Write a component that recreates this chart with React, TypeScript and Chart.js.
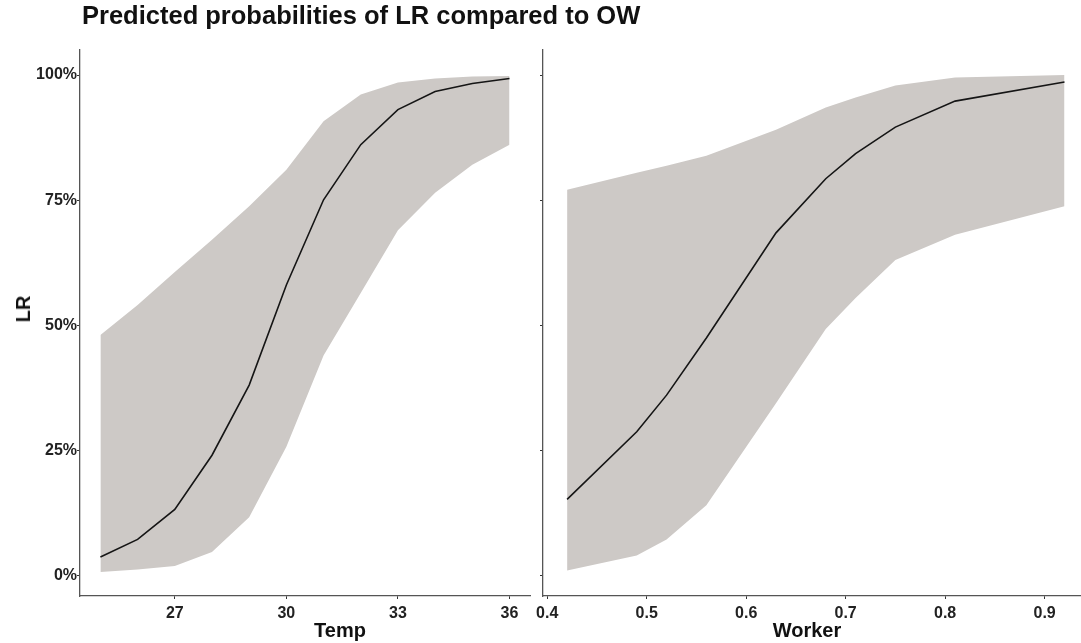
import React, { useEffect, useRef } from "react";
import { Chart, registerables } from "chart.js";

Chart.register(...registerables);

const TITLE = "Predicted probabilities of LR compared to OW";
const Y_TITLE = "LR";
const TEMP_TITLE = "Temp";
const WORKER_TITLE = "Worker";

// Left panel: Temp
const tempX = [25, 26, 27, 28, 29, 30, 31, 32, 33, 34, 35, 36];
const tempFit = [3.8, 7.3, 13.3, 24.1, 38.1, 58.1, 75.1, 86.1, 93.1, 96.7, 98.3, 99.3];
const tempUpper = [48.1, 54.1, 60.7, 67.1, 73.8, 81.1, 90.8, 96.1, 98.5, 99.3, 99.7, 99.8];
const tempLower = [0.8, 1.3, 2.0, 4.8, 11.7, 25.8, 44.0, 56.5, 69.0, 76.5, 82.1, 86.1];
const tempTicks = [27, 30, 33, 36];

// Right panel: Worker
const workerX = [0.42, 0.49, 0.52, 0.56, 0.63, 0.68, 0.71, 0.75, 0.81, 0.92];
const workerFit = [15.3, 28.8, 36.1, 47.5, 68.5, 79.3, 84.3, 89.6, 94.8, 98.6];
const workerUpper = [77.1, 80.5, 81.9, 83.9, 89.1, 93.5, 95.5, 97.9, 99.5, 100];
const workerLower = [1.1, 4.1, 7.3, 14.1, 34.5, 49.3, 55.5, 63.1, 68.1, 73.8];
const workerTicks = [0.4, 0.5, 0.6, 0.7, 0.8, 0.9];

const yTicks = [0, 25, 50, 75, 100];

const FONT = "'Liberation Sans', Arial, Helvetica, sans-serif";
const BAND = "#cdc9c6";
const LINE = "#151515";
const AXIS = "#555555";
const TICKTXT = "#222222";

type PanelOpts = {
  xs: number[];
  fit: number[];
  up: number[];
  lo: number[];
  xTicks: number[];
  xMin: number;
  xMax: number;
  showYLabels: boolean;
  yWidth: number;
  padRight: number;
};

function makeConfig(p: PanelOpts): any {
  const pts = (ys: number[]) => p.xs.map((x, i) => ({ x, y: ys[i] }));
  return {
    type: "line",
    data: {
      datasets: [
        {
          data: pts(p.fit),
          borderColor: LINE,
          borderWidth: 1.6,
          pointRadius: 0,
          fill: false,
          tension: 0,
        },
        {
          data: pts(p.up),
          borderColor: "rgba(0,0,0,0)",
          borderWidth: 0,
          backgroundColor: BAND,
          pointRadius: 0,
          fill: "+1",
          tension: 0,
        },
        {
          data: pts(p.lo),
          borderColor: "rgba(0,0,0,0)",
          borderWidth: 0,
          pointRadius: 0,
          fill: false,
          tension: 0,
        },
      ],
    },
    options: {
      animation: false,
      responsive: false,
      maintainAspectRatio: false,
      layout: { padding: { top: 50, right: p.padRight, left: 0, bottom: 0 } },
      plugins: {
        legend: { display: false },
        tooltip: { enabled: false },
        title: { display: false },
      },
      scales: {
        x: {
          type: "linear",
          min: p.xMin,
          max: p.xMax,
          afterBuildTicks: (s: any) => {
            s.ticks = p.xTicks.map((v) => ({ value: v }));
          },
          afterFit: (s: any) => {
            s.height = 47;
            s.paddingLeft = 0;
            s.paddingRight = 0;
          },
          grid: {
            display: true,
            drawOnChartArea: false,
            drawTicks: true,
            tickLength: 3,
            color: "#333333",
            tickWidth: 1,
          },
          border: { display: true, color: AXIS, width: 1.3 },
          ticks: {
            color: TICKTXT,
            font: { family: FONT, size: 16, weight: "bold" },
            padding: 5,
            maxRotation: 0,
            autoSkip: false,
            callback: (v: any) => String(v),
          },
          title: { display: false },
        },
        y: {
          type: "linear",
          min: -4,
          max: 105,
          afterBuildTicks: (s: any) => {
            s.ticks = yTicks.map((v) => ({ value: v }));
          },
          afterFit: (s: any) => {
            s.width = p.yWidth;
            s.paddingTop = 0;
            s.paddingBottom = 0;
          },
          grid: {
            display: true,
            drawOnChartArea: false,
            drawTicks: true,
            tickLength: 3,
            color: "#333333",
            tickWidth: 1,
          },
          border: { display: true, color: AXIS, width: 1.3 },
          ticks: {
            display: p.showYLabels,
            color: TICKTXT,
            font: { family: FONT, size: 16, weight: "bold" },
            padding: 0,
            autoSkip: false,
            callback: (v: any) => `${v}%`,
          },
          title: { display: false },
        },
      },
    },
  };
}

function Panel(props: { opts: PanelOpts; left: number; width: number }) {
  const ref = useRef<HTMLCanvasElement | null>(null);
  useEffect(() => {
    if (!ref.current) return;
    const chart = new Chart(ref.current, makeConfig(props.opts));
    return () => chart.destroy();
  }, []);
  return (
    <canvas
      ref={ref}
      width={props.width}
      height={643}
      style={{
        position: "absolute",
        left: props.left,
        top: 0,
        width: props.width,
        height: 643,
      }}
    />
  );
}

const leftOpts: PanelOpts = {
  xs: tempX,
  fit: tempFit,
  up: tempUpper,
  lo: tempLower,
  xTicks: tempTicks,
  xMin: 24.451,
  xMax: 36.551,
  showYLabels: true,
  yWidth: 80,
  padRight: 6,
};

const rightOpts: PanelOpts = {
  xs: workerX,
  fit: workerFit,
  up: workerUpper,
  lo: workerLower,
  xTicks: workerTicks,
  xMin: 0.39578,
  xMax: 0.93659,
  showYLabels: false,
  yWidth: 7,
  padRight: 0,
};

const textBase: React.CSSProperties = {
  position: "absolute",
  fontFamily: FONT,
  fontWeight: "bold",
  color: "#111111",
  whiteSpace: "nowrap",
};

export default function App() {
  return (
    <div
      style={{
        position: "absolute",
        left: 0,
        top: 0,
        width: 1081,
        height: 643,
        background: "#ffffff",
        overflow: "hidden",
      }}
    >
      <Panel opts={leftOpts} left={0} width={536} />
      <Panel opts={rightOpts} left={536} width={545} />
      <div
        style={{
          ...textBase,
          left: 82,
          top: 3,
          fontSize: 25.5,
          lineHeight: "25.5px",
        }}
      >
        {TITLE}
      </div>
      <div
        style={{
          ...textBase,
          left: 23,
          top: 309,
          fontSize: 20,
          lineHeight: "20px",
          transform: "translate(-50%, -50%) rotate(-90deg)",
        }}
      >
        {Y_TITLE}
      </div>
      <div
        style={{
          ...textBase,
          left: 340,
          top: 620,
          fontSize: 20,
          lineHeight: "20px",
          transform: "translateX(-50%)",
        }}
      >
        {TEMP_TITLE}
      </div>
      <div
        style={{
          ...textBase,
          left: 807,
          top: 620,
          fontSize: 20,
          lineHeight: "20px",
          transform: "translateX(-50%)",
        }}
      >
        {WORKER_TITLE}
      </div>
    </div>
  );
}
